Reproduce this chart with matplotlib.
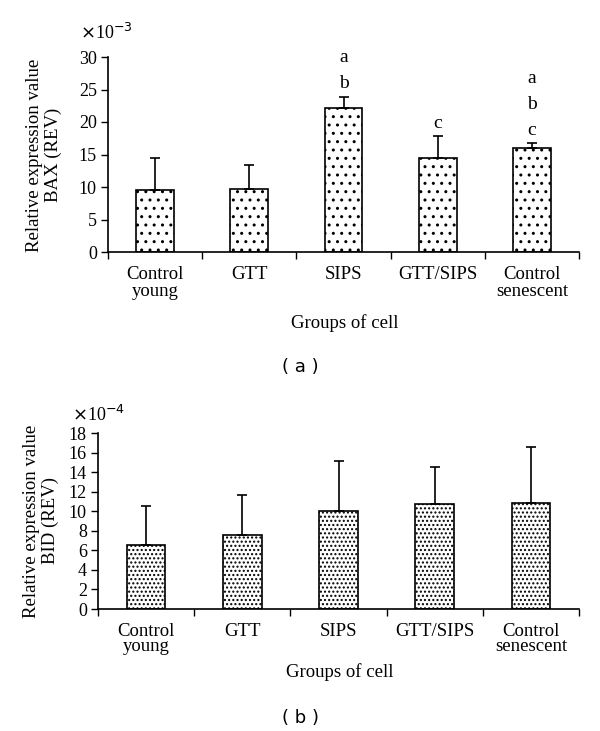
import matplotlib.pyplot as plt
import numpy as np

plt.rcParams['font.family'] = ['Liberation Serif', 'DejaVu Serif']
plt.rcParams['hatch.linewidth'] = 1.0

groups = ['Control\nyoung', 'GTT', 'SIPS', 'GTT/SIPS', 'Control\nsenescent']

# BAX (x10^-3)
bax_mean = [9.5, 9.7, 22.1, 14.5, 16.0]
bax_err = [5.0, 3.7, 1.8, 3.3, 0.7]
bax_marks = [[], [], ['a', 'b'], ['c'], ['a', 'b', 'c']]

# BID (x10^-4)
bid_mean = [6.5, 7.6, 10.05, 10.7, 10.8]
bid_err = [4.0, 4.1, 5.1, 3.8, 5.8]

W, H = 600, 731
fig = plt.figure(figsize=(6, 7.31), dpi=100)
ax1 = fig.add_axes([108 / W, 1 - 252 / H, (579 - 108) / W, 195 / H])
ax2 = fig.add_axes([98 / W, 1 - 609 / H, (579 - 98) / W, 176 / H])


def draw(ax, mean, err, ymax, ystep, hatch, lsp):
    x = np.arange(len(mean))
    ax.bar(x, mean, width=0.4, color='white', edgecolor='black',
           linewidth=1.2, hatch=hatch, zorder=2)
    ax.errorbar(x, mean, yerr=[np.zeros(len(mean)), err], fmt='none',
                ecolor='black', elinewidth=1.2, capsize=3.5, capthick=1.2, zorder=3)
    ax.set_xlim(-0.5, len(mean) - 0.5)
    ax.set_ylim(0, ymax)
    ax.set_yticks(np.arange(0, ymax + 0.1, ystep))
    ax.set_xticks(x)
    ax.set_xticklabels(groups, fontsize=13.5, linespacing=lsp)
    ax.set_xticks(np.arange(-0.5, len(mean)), minor=True)
    ax.tick_params(axis='x', which='major', length=0, pad=10)
    ax.tick_params(axis='x', which='minor', length=5, direction='out', width=1)
    ax.tick_params(axis='y', length=5, direction='out', width=1, labelsize=13, pad=3)
    for s in ['top', 'right']:
        ax.spines[s].set_visible(False)
    for s in ['left', 'bottom']:
        ax.spines[s].set_linewidth(1.2)


draw(ax1, bax_mean, bax_err, 30, 5, '..', 1.0)
for i, marks in enumerate(bax_marks):
    top = bax_mean[i] + bax_err[i]
    for k, m in enumerate(reversed(marks)):
        ax1.text(i, top + 2.0 + 4.0 * k, m, ha='center', va='center', fontsize=14)

draw(ax2, bid_mean, bid_err, 18, 2, '....', 0.85)

# scale factors, axis titles
fig.text(80 / W, 1 - 33 / H, r'$\times$10$^{-3}$', fontsize=13, ha='left', va='center')
fig.text(72 / W, 1 - 415 / H, r'$\times$10$^{-4}$', fontsize=13, ha='left', va='center')
fig.text(44 / W, 1 - 155 / H, 'Relative expression value\nBAX (REV)', rotation=90,
         fontsize=13.5, ha='center', va='center', linespacing=1.15)
fig.text(41 / W, 1 - 521 / H, 'Relative expression value\nBID (REV)', rotation=90,
         fontsize=13.5, ha='center', va='center', linespacing=1.15)
fig.text(345 / W, 1 - 323 / H, 'Groups of cell', fontsize=13.5, ha='center', va='center')
fig.text(340 / W, 1 - 672 / H, 'Groups of cell', fontsize=13.5, ha='center', va='center')

fig.text(0.5, 1 - 367 / H, '( a )', ha='center', va='center',
         fontsize=13, family='DejaVu Sans')
fig.text(0.5, 1 - 718 / H, '( b )', ha='center', va='center',
         fontsize=13, family='DejaVu Sans')

fig.savefig('out.png', dpi=100)
